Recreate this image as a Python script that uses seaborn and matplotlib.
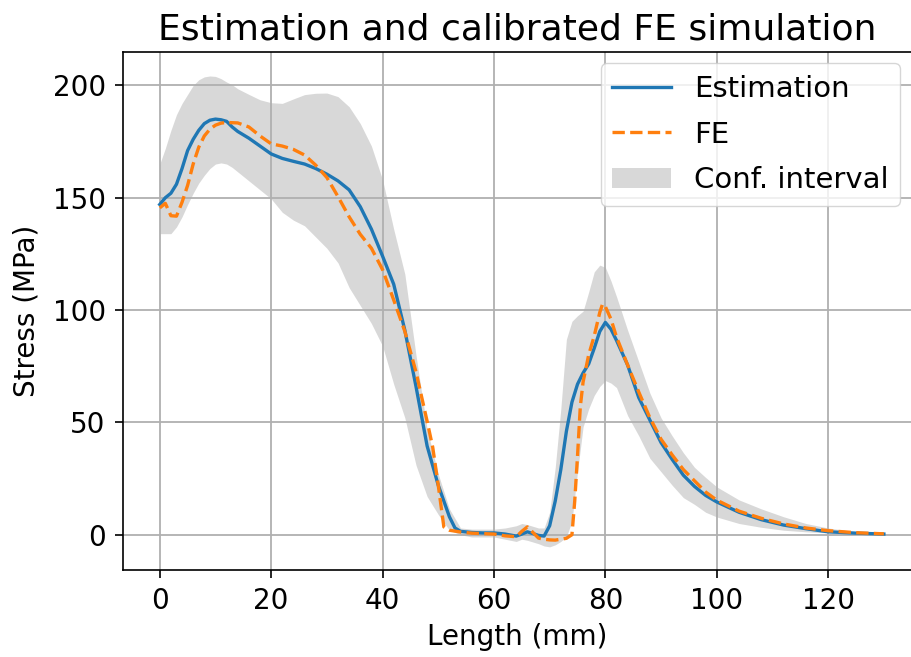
import matplotlib
matplotlib.use("Agg")
import matplotlib.pyplot as plt
import seaborn as sns

# estimated stress along the length
est_x = [0, 1, 2, 3, 4, 5, 6, 7, 8, 9, 10, 11, 12, 13, 14, 16, 18, 20, 22, 24,
         26, 28, 30, 32, 34, 36, 38, 40, 42, 44, 46, 48, 50, 51, 52, 53, 54, 56,
         58, 60, 62, 64, 65, 66, 67, 68, 69, 70, 71, 72, 73, 74, 75, 76, 77, 78,
         79, 80, 81, 82, 84, 86, 88, 90, 92, 94, 96, 98, 100, 104, 108, 112, 116,
         120, 125, 130]
est_y = [147, 150, 152, 156, 163, 171, 176, 180, 183, 184.5, 185, 184.7, 184,
         181.5, 179.5, 176.5, 173, 169.5, 167.5, 166.2, 165, 163, 160.5, 157.5,
         153.5, 146, 136, 124, 111.5, 91, 66, 39.5, 22, 15, 8, 3, 1.5, 1, 0.8,
         0.8, 0.3, -0.6, 0.3, 1.3, 0.5, -0.3, -0.6, 4, 15, 29, 46, 59, 67, 72,
         76, 83, 90.5, 94.5, 91.5, 86.5, 75.5, 61, 51, 41, 33.5, 26.5, 21.5,
         17.5, 14.6, 10, 6.7, 4.3, 2.7, 1.3, 0.7, 0.3]

# calibrated FE simulation
fe_x = [0, 1, 2, 3, 4, 5, 6, 7, 8, 9, 10, 11, 12, 14, 16, 18, 20, 22, 24, 26,
        28, 30, 32, 34, 36, 38, 40, 42, 44, 46, 48, 49, 50, 51, 52, 54, 56, 58,
        60, 62, 64, 65, 66, 67, 68, 69, 70, 71, 72, 73, 74, 74.5, 75, 75.5, 76,
        77, 78, 79, 79.5, 80, 81, 82, 84, 86, 88, 90, 92, 94, 96, 98, 100, 104,
        108, 112, 116, 120, 125, 130]
fe_y = [145.5, 147.5, 142, 141.8, 148, 155.5, 165, 172.5, 177.5, 180.5, 182.3,
        183.2, 183.5, 183.3, 181.5, 177.5, 174, 173, 171.5, 169, 164.5, 159,
        150.5, 141.5, 133.7, 127.5, 118, 104.5, 90.5, 72.5, 50.5, 39, 22, 3.5,
        2, 1.2, 0.7, 0.5, 0.3, -0.5, -0.9, 1.5, 3.5, 1, -1.5, -2, -2.3, -2.4,
        -2, -1.6, 0, 15, 35, 57, 68, 80, 88.5, 99, 102.7, 101.5, 96, 88, 75.5,
        63.5, 52, 42.5, 35.5, 29, 24, 19, 15.4, 10.5, 7.3, 4.8, 3, 1.8, 0.9, 0.4]

# confidence interval bounds
ci_x = [0, 1, 2, 3, 4, 5, 6, 7, 8, 9, 10, 11, 12, 13, 14, 16, 18, 20, 22, 24,
        26, 28, 30, 32, 34, 36, 38, 40, 42, 44, 46, 48, 50, 52, 54, 56, 60, 62,
        64, 65, 66, 68, 69, 70, 71, 72, 73, 74, 75, 76, 77, 78, 79, 80, 81, 82,
        84, 86, 88, 90, 92, 94, 96, 98, 100, 104, 108, 112, 116, 120, 125, 130]
ci_hi = [165, 172, 180, 187, 192, 196, 200, 202.5, 203.8, 204.2, 204, 203,
         201.5, 200.3, 198.5, 196, 193.6, 192.3, 192, 194, 195.9, 196.5, 196.6,
         195, 190.5, 183, 173, 158, 136, 116, 80, 47, 27, 11.5, 3, 2.5, 2.5, 3,
         4, 5, 4.5, 3, 3, 10, 30, 56, 87, 95, 97.5, 99.5, 108, 117, 120, 119,
         113, 106, 91, 77, 63, 52, 44, 36.5, 30, 25.5, 21.3, 15.5, 11.5, 8, 5,
         3, 1.3, 0.5]
ci_lo = [134, 134, 134, 137, 141.5, 147, 152, 156.5, 160, 163, 165, 165.5, 165,
         163.5, 161.5, 157.5, 153.5, 149.5, 143.5, 140, 137.5, 132.5, 127.5,
         121, 110, 102, 94, 84, 67, 52, 31, 17, 9, 2, 0, -1, -1, -2, -3, -2,
         -2.5, -4, -5, -5.4, -4.5, -3, -1, 6, 28, 48, 56, 62, 66, 68.6, 67.5,
         65.5, 53, 44, 34, 28, 22, 16.5, 13.5, 10, 7.9, 5, 3.3, 2, 1.3, 0.8,
         0.4, 0.2]

fs = 20
fig = plt.figure(figsize=(9.12, 6.57), dpi=100)
# the original is cropped on the right: axes run to the figure edge, no right spine
ax = fig.add_axes([123 / 912, 1 - 570 / 657, 1 - 123 / 912, 518.3 / 657])

sns.lineplot(x=est_x, y=est_y, ax=ax, color="#1f77b4", linewidth=2.4,
             label="Estimation")
sns.lineplot(x=fe_x, y=fe_y, ax=ax, color="#ff7f0e", linewidth=2.4,
             linestyle="--", label="FE")
ax.fill_between(ci_x, ci_lo, ci_hi, color="gray", alpha=0.3, linewidth=0,
                label="Conf. interval")

ax.set_xlim(-6.6, 135.05)
ax.set_ylim(-15.7, 215)
ax.grid(True, color="#b0b0b0", linewidth=1.3)
ax.set_title("Estimation and calibrated FE simulation", fontsize=26, pad=9)
ax.set_xlabel("Length (mm)", fontsize=fs, labelpad=5.5)
ax.set_ylabel("Stress (MPa)", fontsize=fs, labelpad=8.5)
ax.tick_params(labelsize=fs, width=1.2, length=5.5, pad=7)
for s in ax.spines.values():
    s.set_linewidth(1.2)
ax.spines["right"].set_visible(False)
ax.legend(fontsize=21, loc="upper right", borderaxespad=0.4, labelspacing=0.6)

fig.savefig("out.png", dpi=100)
